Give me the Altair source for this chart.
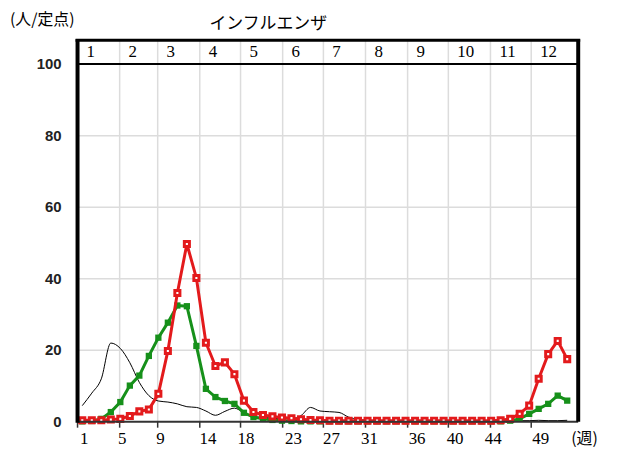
import altair as alt
import pandas as pd

# ---- data ----
weeks = list(range(1, 53))
black_vals = [4.5, 8.0, 12.0, 22.0, 20.5, 16.5, 11.0, 7.3, 5.8, 5.5,
              5.0, 4.2, 4.0, 3.0, 1.8, 2.9, 3.8, 2.5, 1.5, 1.2,
              1.0, 0.8, 0.8, 1.7, 4.0, 3.0, 2.8, 2.6, 1.3, 0.7,
              0.4, 0.3, 0.3, 0.3, 0.2, 0.3, 0.3, 0.2, 0.3, 0.3,
              0.3, 0.2, 0.3, 0.3, 0.3, 0.3, 0.3, 0.3, 0.4, 0.3,
              0.3, 0.4]
green_vals = [0.1, 0.2, 0.8, 2.7, 5.5, 10.1, 12.9, 18.4, 23.5, 27.7,
              32.5, 32.3, 21.2, 9.2, 6.9, 5.8, 5.0, 2.5, 1.3, 0.8,
              0.5, 0.3, 0.2, 0.1, 0.1, 0.1, 0.1, 0.1, 0.1, 0.1,
              0.1, 0.1, 0.1, 0.1, 0.1, 0.1, 0.1, 0.1, 0.1, 0.1,
              0.1, 0.1, 0.1, 0.1, 0.1, 0.3, 0.8, 2.2, 3.6, 5.0,
              7.3, 5.9]
red_vals = [0.4, 0.4, 0.4, 0.6, 0.8, 1.6, 2.9, 3.4, 7.8, 19.8,
            36.0, 49.7, 40.2, 22.1, 15.6, 16.6, 13.3, 5.9, 2.7, 1.9,
            1.5, 1.2, 1.0, 0.7, 0.5, 0.4, 0.3, 0.3, 0.3, 0.3,
            0.3, 0.3, 0.3, 0.3, 0.3, 0.3, 0.3, 0.3, 0.3, 0.3,
            0.3, 0.3, 0.3, 0.3, 0.4, 0.8, 2.2, 4.5, 12.0, 18.9,
            22.6, 17.5]

month_days = [31, 28, 31, 30, 31, 30, 31, 31, 30, 31, 30, 31]
month_labels = ["1", "2", "3", "4", "5", "6", "7", "8", "9", "10", "11", "12"]
tick_weeks = [1, 5, 9, 14, 18, 23, 27, 31, 36, 40, 44, 49]
y_ticks = [0, 20, 40, 60, 80, 100]
y_grid = [20, 40, 60, 80]

title_text = "インフルエンザ"
unit_text = "(人/定点)"
week_unit_text = "(週)"

# ---- tables ----
starts = [0]
for d in month_days[:-1]:
    starts.append(starts[-1] + d)

def week_day(w):
    return w * 7 - 3.5

df_black = pd.DataFrame({"day": [week_day(w) for w in weeks], "v": black_vals})
df_green = pd.DataFrame({"day": [week_day(w) for w in weeks], "v": green_vals})
df_red = pd.DataFrame({"day": [week_day(w) for w in weeks], "v": red_vals})
df_months = pd.DataFrame({"day": starts, "label": month_labels})
df_ticks = pd.DataFrame({"day": [week_day(w) for w in tick_weeks],
                         "label": [str(w) for w in tick_weeks]})
df_yt = pd.DataFrame({"v": y_ticks, "label": [str(v) for v in y_ticks]})
df_yg = pd.DataFrame({"v": y_grid})
df_strip = pd.DataFrame({"v": [100]})
one = pd.DataFrame({"t": [title_text]})
one_unit = pd.DataFrame({"t": [unit_text]})
one_week = pd.DataFrame({"t": [week_unit_text]})

W, H = 504, 384
xs = alt.Scale(domain=[0, 368.6], nice=False, zero=False)
ys = alt.Scale(domain=[0, 106.67], nice=False, zero=False)
X = alt.X("day:Q", scale=xs, axis=None)
Y = alt.Y("v:Q", scale=ys, axis=None)

digit_font = "Liberation Serif"
RED = "#e31a1c"
GREEN = "#16901a"

vgrid = alt.Chart(df_months).mark_rule(color="#dcdcdc", strokeWidth=1.5).encode(x=X)
hgrid = alt.Chart(df_yg).mark_rule(color="#dcdcdc", strokeWidth=1.5).encode(y=Y)
xticks = alt.Chart(df_months).mark_rule(color="#333333", strokeWidth=1.5).encode(
    x=X, y=alt.value(H), y2=alt.value(H + 6))

black_line = alt.Chart(df_black).mark_line(color="black", strokeWidth=1,
                                           interpolate="monotone").encode(x=X, y=Y)
green_line = alt.Chart(df_green).mark_line(color=GREEN, strokeWidth=3).encode(x=X, y=Y)
green_pts = alt.Chart(df_green).mark_point(shape="square", filled=True, color=GREEN,
                                           size=40, opacity=1).encode(x=X, y=Y)
red_line = alt.Chart(df_red).mark_line(color=RED, strokeWidth=3).encode(x=X, y=Y)
red_pts = alt.Chart(df_red).mark_point(shape="square", filled=True, fill="white",
                                       stroke=RED, strokeWidth=3, size=26,
                                       opacity=1).encode(x=X, y=Y)

strip_line = alt.Chart(df_strip).mark_rule(color="black", strokeWidth=2).encode(y=Y)
bottom_line = alt.Chart(df_strip).mark_rule(color="#333333", strokeWidth=2).encode(
    x=alt.value(0), x2=alt.value(W), y=alt.value(H))
left_border = alt.Chart(df_strip).mark_rule(color="black", strokeWidth=4).encode(
    x=alt.value(0), y=alt.value(-1), y2=alt.value(H + 1))
right_border = alt.Chart(df_strip).mark_rule(color="black", strokeWidth=4).encode(
    x=alt.value(W), y=alt.value(-1), y2=alt.value(H))
top_border = alt.Chart(df_strip).mark_rule(color="black", strokeWidth=3).encode(
    x=alt.value(-2), x2=alt.value(W + 2), y=alt.value(0))

month_text = alt.Chart(df_months).mark_text(
    align="left", baseline="middle", dx=9, font=digit_font, fontSize=17, color="black"
).encode(x=X, y=alt.value(12), text="label:N")

week_text = alt.Chart(df_ticks).mark_text(
    align="center", baseline="middle", dx=2, font=digit_font, fontSize=17, color="black"
).encode(x=X, y=alt.value(401), text="label:N")

y_text = alt.Chart(df_yt).mark_text(
    align="right", baseline="middle", font="Liberation Sans", fontWeight="bold",
    fontSize=15, color="#222222"
).encode(x=alt.value(-16), y=Y, text="label:N")

title = alt.Chart(one).mark_text(
    align="center", baseline="middle", font="Noto Sans CJK JP", fontSize=17, color="black"
).encode(x=alt.value(192), y=alt.value(-16), text="t:N")

unit = alt.Chart(one_unit).mark_text(
    align="left", baseline="middle", font="Noto Sans CJK JP", fontSize=16, color="black"
).encode(x=alt.value(-68), y=alt.value(-20), text="t:N")

week_unit = alt.Chart(one_week).mark_text(
    align="left", baseline="middle", font="Noto Sans CJK JP", fontSize=16, color="black"
).encode(x=alt.value(497), y=alt.value(401), text="t:N")

chart = alt.layer(
    vgrid, hgrid, xticks,
    black_line, green_line, green_pts, red_line, red_pts,
    strip_line, bottom_line, left_border, right_border, top_border,
    month_text, week_text, y_text, title, unit, week_unit
).properties(
    width=W, height=H,
    autosize=alt.AutoSizeParams(type="none"),
    padding={"left": 70, "top": 31, "right": 32, "bottom": 30},
    background="white",
).configure_view(stroke=None)

chart.save("out.html", embed_options={"renderer": "svg", "actions": False})
